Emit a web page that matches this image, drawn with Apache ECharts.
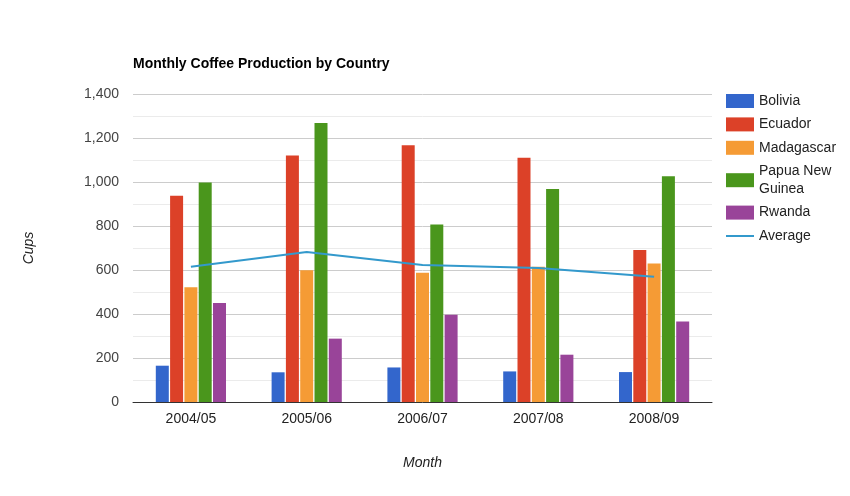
<!DOCTYPE html>
<html>
<head>
<meta charset="utf-8">
<script src="https://cdn.jsdelivr.net/npm/echarts@6/dist/echarts.min.js"></script>
<style>html,body{margin:0;padding:0;background:#fff}#c{width:850px;height:496px}</style>
</head>
<body>
<div id="c"></div>
<script>
var categories = ['2004/05', '2005/06', '2006/07', '2007/08', '2008/09'];
var bolivia = [165, 135, 157, 139, 136];
var ecuador = [938, 1120, 1167, 1110, 691];
var madagascar = [522, 599, 587, 615, 629];
var papuaNewGuinea = [998, 1268, 807, 968, 1026];
var rwanda = [450, 288, 397, 215, 366];
var average = [614.6, 682, 623, 609.4, 569.6];
var yTicks = [0, 200, 400, 600, 800, 1000, 1200, 1400];

var font = 'Arial, "Liberation Sans", sans-serif';
var chart = echarts.init(document.getElementById('c'));
function bar(name, data, color) {
  return { name: name, type: 'bar', data: data, barWidth: 13, barGap: '10%', barCategoryGap: '39%',
    itemStyle: { color: color }, emphasis: { disabled: true } };
}
chart.setOption({
  animation: false,
  textStyle: { fontFamily: font },
  title: { text: 'Monthly Coffee Production by Country', left: 128, top: 52,
    textStyle: { fontSize: 14, fontWeight: 'bold', color: '#000', fontFamily: font } },
  legend: {
    orient: 'vertical', left: 721, top: 87, itemWidth: 28, itemHeight: 14, itemGap: 5.4,
    textStyle: { fontSize: 14, color: '#222', fontFamily: font, lineHeight: 18 },
    formatter: function (n) { return n === 'Papua New Guinea' ? 'Papua New\nGuinea' : n; },
    data: [
      { name: 'Bolivia', icon: 'rect' },
      { name: 'Ecuador', icon: 'rect' },
      { name: 'Madagascar', icon: 'rect' },
      { name: 'Papua New Guinea', icon: 'rect' },
      { name: 'Rwanda', icon: 'rect' },
      { name: 'Average', icon: 'path://M0,0 M0,6 L28,6 L28,8 L0,8 Z M28,14',
        itemStyle: { color: '#3399cc', borderWidth: 0 } }
    ]
  },
  grid: { left: 133, right: 138, top: 94, bottom: 94, containLabel: false },
  xAxis: {
    type: 'category', data: categories,
    name: 'Month', nameLocation: 'middle', nameGap: 54,
    nameTextStyle: { fontStyle: 'italic', fontSize: 14, color: '#222', fontFamily: font },
    axisLine: { lineStyle: { color: '#333', width: 1 } },
    axisTick: { show: false },
    axisLabel: { fontSize: 14, color: '#222', margin: 10, fontFamily: font }
  },
  yAxis: {
    type: 'value', min: yTicks[0], max: yTicks[yTicks.length - 1], interval: 200,
    name: 'Cups', nameLocation: 'middle', nameGap: 97, nameRotate: 90,
    nameTextStyle: { fontStyle: 'italic', fontSize: 14, color: '#222', fontFamily: font },
    axisLine: { show: false }, axisTick: { show: false },
    axisLabel: { fontSize: 14, color: '#444', margin: 14, fontFamily: font,
      formatter: function (v) { return v.toLocaleString('en-US'); } },
    splitLine: { lineStyle: { color: '#ccc' } },
    minorTick: { show: false, splitNumber: 2 },
    minorSplitLine: { show: true, lineStyle: { color: '#ebebeb' } }
  },
  series: [
    bar('Bolivia', bolivia, '#3366cc'),
    bar('Ecuador', ecuador, '#dc4128'),
    bar('Madagascar', madagascar, '#f59b35'),
    bar('Papua New Guinea', papuaNewGuinea, '#4a961c'),
    bar('Rwanda', rwanda, '#994499'),
    { name: 'Average', type: 'line', data: average, symbol: 'none', z: 5,
      lineStyle: { color: '#3399cc', width: 2 }, itemStyle: { color: '#3399cc' },
      emphasis: { disabled: true } }
  ]
});
</script>
</body>
</html>
